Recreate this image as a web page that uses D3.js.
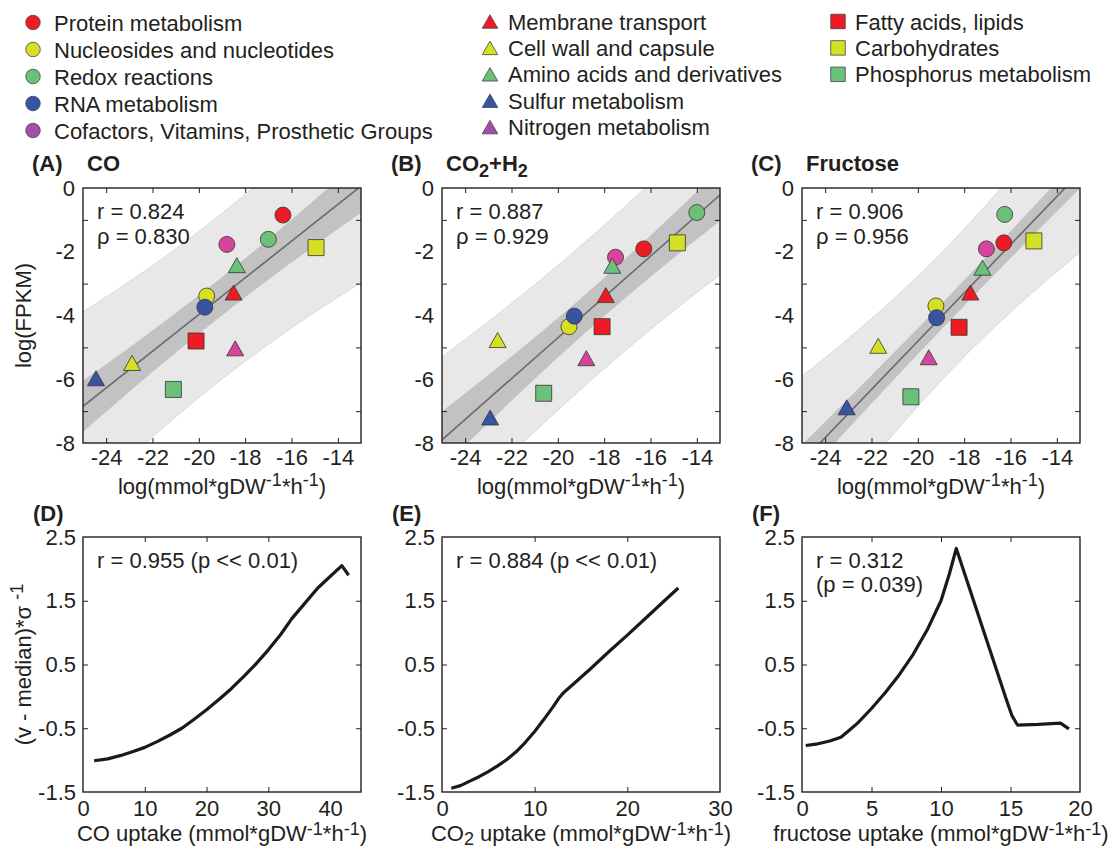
<!DOCTYPE html>
<html>
<head>
<meta charset="utf-8">
<script src="https://d3js.org/d3.v7.min.js"></script>
<style>
  body { margin: 0; background: #fff; }
  svg text { font-family: "Liberation Sans", Arial, sans-serif; fill: #231f20; }
</style>
</head>
<body>
<svg id="chart" width="1112" height="847"></svg>
<script>
// categories (legend order) with marker shape and colour
var categories = ["Protein metabolism", "Nucleosides and nucleotides", "Redox reactions", "RNA metabolism",
  "Cofactors, Vitamins, Prosthetic Groups", "Membrane transport", "Cell wall and capsule",
  "Amino acids and derivatives", "Sulfur metabolism", "Nitrogen metabolism",
  "Fatty acids, lipids", "Carbohydrates", "Phosphorus metabolism"];
var shapes = ["circle", "circle", "circle", "circle", "circle",
  "triangle", "triangle", "triangle", "triangle", "triangle",
  "square", "square", "square"];
var colors = ["#ed1c24", "#d5df26", "#6cc077", "#3953a4", "#d6459b",
  "#ed1c24", "#d5df26", "#6cc077", "#3953a4", "#d6459b",
  "#ed1c24", "#d5df26", "#6cc077"];
var legendColors = ["#ed1c24", "#d5df26", "#6cc077", "#3953a4", "#a54ea6",
  "#ed1c24", "#d5df26", "#6cc077", "#3953a4", "#a54ea6",
  "#ed1c24", "#d5df26", "#6cc077"];

// scatter values, one per category: log flux (x) and log(FPKM) (y)
var xCO = [-16.37, -19.66, -17.0, -19.74, -18.79, -18.5, -22.88, -18.36, -24.44, -18.43, -20.12, -14.94, -21.1];
var yCO = [-0.85, -3.39, -1.61, -3.74, -1.77, -3.28, -5.49, -2.42, -5.97, -5.03, -4.8, -1.87, -6.32];
var xCO2 = [-16.29, -19.52, -14.0, -19.29, -17.51, -17.93, -22.6, -17.65, -22.92, -18.77, -18.09, -14.84, -20.61];
var yCO2 = [-1.91, -4.35, -0.77, -4.02, -2.17, -3.36, -4.77, -2.44, -7.2, -5.34, -4.35, -1.72, -6.44];
var xFru = [-16.29, -19.22, -16.25, -19.19, -17.04, -17.73, -21.71, -17.21, -23.07, -19.53, -18.22, -14.99, -20.3];
var yFru = [-1.72, -3.7, -0.83, -4.07, -1.91, -3.28, -4.95, -2.5, -6.88, -5.31, -4.37, -1.66, -6.55];

// fitted line ends and band half widths [at mean x, at 6 units away]
var fitCO = [[-25, -6.85], [-13, 0.06]];
var fitCO2 = [[-25, -7.9], [-13, -0.22]];
var fitFru = [[-25, -8.59], [-13, 0.49]];
var confCO = [0.6, 0.82], predCO = [2.6, 3.0];
var confCO2 = [0.6, 0.85], predCO2 = [2.25, 2.55];
var confFru = [0.4, 0.52], predFru = [2.0, 2.6];

var statsCO = ["r = 0.824", "\u03c1 = 0.830"];
var statsCO2 = ["r = 0.887", "\u03c1 = 0.929"];
var statsFru = ["r = 0.906", "\u03c1 = 0.956"];

// z-scored flux vs uptake curves
var upCO = [1.8, 4, 6, 8, 10, 12, 14, 16, 18, 20, 22, 24, 26, 28, 30, 32, 33.8, 36, 38, 40, 41.9, 43.0];
var zCO = [-1.01, -0.98, -0.93, -0.87, -0.8, -0.71, -0.61, -0.5, -0.36, -0.21, -0.05, 0.12, 0.31, 0.51, 0.73, 0.97, 1.22, 1.47, 1.7, 1.88, 2.05, 1.9];
var upCO2 = [1.0, 2, 3, 4, 5, 6, 7, 8, 9, 10, 11, 12, 12.6, 13.2, 14, 16, 18, 20, 22, 24, 25.5];
var zCO2 = [-1.44, -1.4, -1.33, -1.26, -1.18, -1.09, -0.99, -0.87, -0.72, -0.55, -0.36, -0.16, -0.03, 0.07, 0.17, 0.43, 0.7, 0.96, 1.23, 1.5, 1.7];
var upFru = [0.27, 1, 2, 2.8, 3.4, 4, 5, 6, 7, 8, 9, 10, 10.6, 11.1, 13, 14.7, 15.1, 15.5, 17, 18.6, 19.2];
var zFru = [-0.77, -0.75, -0.7, -0.64, -0.53, -0.42, -0.19, 0.06, 0.34, 0.66, 1.04, 1.5, 1.92, 2.32, 1.07, -0.05, -0.3, -0.45, -0.44, -0.42, -0.51];

var svg = d3.select("#chart");
var lefts = [83, 442, 802], W = 278, H = 255, topS = 188, topB = 537;
var FS = 22;

function markerPath(shape, s) {
  if (shape === "circle") return d3.symbol(d3.symbolCircle, Math.PI * s * s / 4)();
  if (shape === "square") return d3.symbol(d3.symbolSquare, s * s)();
  var w = s + 1, h = s - 1;
  return "M0," + (-h / 2) + "L" + (w / 2) + "," + (h / 2) + "L" + (-w / 2) + "," + (h / 2) + "Z";
}

// label with super/subscripts: parts = [[text, shift]]
function richText(sel, parts, size) {
  var prev = 0;
  parts.forEach(function (p) {
    var sh = p[1] || 0;
    sel.append("tspan").attr("dy", sh - prev).attr("font-size", sh ? size * 0.82 : size).text(p[0]);
    prev = sh;
  });
}

// legend
var legCols = [{x: 33, tx: 54, y0: 22.5, dy: 27, idx: [0, 1, 2, 3, 4]},
  {x: 490, tx: 508, y0: 21.5, dy: 26.4, idx: [5, 6, 7, 8, 9]},
  {x: 838, tx: 855, y0: 21.5, dy: 26.4, idx: [10, 11, 12]}];
legCols.forEach(function (c) {
  c.idx.forEach(function (k, i) {
    var yy = c.y0 + i * c.dy;
    svg.append("path").attr("d", markerPath(shapes[k], 14.5))
      .attr("transform", "translate(" + c.x + "," + yy + ")")
      .attr("fill", legendColors[k]).attr("stroke", "#444").attr("stroke-width", 0.8);
    svg.append("text").attr("x", c.tx).attr("y", yy + 8).attr("font-size", FS).text(categories[k]);
  });
});

function frame(g, left, top) {
  g.append("rect").attr("x", left).attr("y", top).attr("width", W).attr("height", H)
    .attr("fill", "none").attr("stroke", "#231f20").attr("stroke-width", 1.4);
}

function styleAxis(a) {
  a.select(".domain").remove();
  a.selectAll("line").attr("stroke", "#231f20").attr("stroke-width", 1);
  a.selectAll("text").attr("font-size", FS).attr("font-family", "Liberation Sans, Arial, sans-serif").attr("fill", "#231f20");
}

function scatterPanel(i, xs, ys, fit, conf, pred, stats, tag, title) {
  var left = lefts[i];
  var g = svg.append("g");
  var x = d3.scaleLinear().domain([-25, -13]).range([left, left + W]);
  var y = d3.scaleLinear().domain([-8, 0]).range([topS + H, topS]);
  var cid = "clip" + i;
  g.append("clipPath").attr("id", cid).append("rect")
    .attr("x", left).attr("y", topS).attr("width", W).attr("height", H);

  var slope = (fit[1][1] - fit[0][1]) / (fit[1][0] - fit[0][0]);
  var fy = function (v) { return fit[0][1] + slope * (v - fit[0][0]); };
  var xm = d3.mean(xs);
  var hw = function (h, v) {
    return Math.sqrt(h[0] * h[0] + (h[1] * h[1] - h[0] * h[0]) / 36 * (v - xm) * (v - xm));
  };
  var grid = d3.range(-25, -12.95, 0.1);
  var band = function (h) {
    return d3.area().x(function (v) { return x(v); })
      .y0(function (v) { return y(fy(v) - hw(h, v)); })
      .y1(function (v) { return y(fy(v) + hw(h, v)); });
  };
  var cg = g.append("g").attr("clip-path", "url(#" + cid + ")");
  cg.append("path").datum(grid).attr("d", band(pred)).attr("fill", "#e8e8e8")
    .attr("stroke", "#d9d9d9").attr("stroke-width", 1);
  cg.append("path").datum(grid).attr("d", band(conf)).attr("fill", "#c2c2c2");
  cg.append("line").attr("x1", x(fit[0][0])).attr("y1", y(fit[0][1]))
    .attr("x2", x(fit[1][0])).attr("y2", y(fit[1][1]))
    .attr("stroke", "#6a6a6a").attr("stroke-width", 1.6);

  // ticks (inward, all sides) and labels
  var tx = [-24, -22, -20, -18, -16, -14], ty = [-7, -5, -3, -1];
  styleAxis(g.append("g").attr("transform", "translate(0," + (topS + H) + ")")
    .call(d3.axisBottom(x).tickValues(tx).tickSize(-5).tickFormat("")));
  styleAxis(g.append("g").attr("transform", "translate(0," + topS + ")")
    .call(d3.axisTop(x).tickValues(tx).tickSize(-5).tickFormat("")));
  styleAxis(g.append("g").attr("transform", "translate(" + left + ",0)")
    .call(d3.axisLeft(y).tickValues(ty).tickSize(-5).tickFormat("")));
  styleAxis(g.append("g").attr("transform", "translate(" + (left + W) + ",0)")
    .call(d3.axisRight(y).tickValues(ty).tickSize(-5).tickFormat("")));
  styleAxis(g.append("g").attr("transform", "translate(0," + (topS + H) + ")")
    .call(d3.axisBottom(x).tickValues(tx).tickSize(0).tickPadding(6).tickFormat(String)));
  styleAxis(g.append("g").attr("transform", "translate(" + left + ",0)")
    .call(d3.axisLeft(y).tickValues([0, -2, -4, -6, -8]).tickSize(0).tickPadding(8).tickFormat(String)));

  // points
  g.selectAll("path.pt").data(xs).enter().append("path").attr("class", "pt")
    .attr("d", function (d, k) { return markerPath(shapes[k], 16); })
    .attr("transform", function (d, k) { return "translate(" + x(d) + "," + y(ys[k]) + ")"; })
    .attr("fill", function (d, k) { return colors[k]; })
    .attr("stroke", "#333").attr("stroke-width", 0.8);

  frame(g, left, topS);

  stats.forEach(function (s, k) {
    g.append("text").attr("x", left + 14).attr("y", topS + 31 + k * 25).attr("font-size", FS).text(s);
  });
  g.append("text").attr("x", left - 51).attr("y", 171).attr("font-size", FS).attr("font-weight", "bold").text(tag);
  var t = g.append("text").attr("x", left + 4).attr("y", 171).attr("font-size", FS).attr("font-weight", "bold");
  richText(t, title, FS);
  var xl = g.append("text").attr("x", left + W / 2).attr("y", 494).attr("text-anchor", "middle").attr("font-size", FS);
  richText(xl, [["log(mmol*gDW"], ["-1", -8], ["*h"], ["-1", -8], [")"]], FS);
}

function linePanel(i, xs, zs, xmax, xticks, stats, tag, xlabel) {
  var left = lefts[i];
  var g = svg.append("g");
  var x = d3.scaleLinear().domain([0, xmax]).range([left, left + W]);
  var y = d3.scaleLinear().domain([-1.5, 2.5]).range([topB + H, topB]);
  var inner = xticks.slice(1, -1), yin = [-0.5, 0.5, 1.5];
  styleAxis(g.append("g").attr("transform", "translate(0," + (topB + H) + ")")
    .call(d3.axisBottom(x).tickValues(inner).tickSize(-5).tickFormat("")));
  styleAxis(g.append("g").attr("transform", "translate(0," + topB + ")")
    .call(d3.axisTop(x).tickValues(inner).tickSize(-5).tickFormat("")));
  styleAxis(g.append("g").attr("transform", "translate(" + left + ",0)")
    .call(d3.axisLeft(y).tickValues(yin).tickSize(-5).tickFormat("")));
  styleAxis(g.append("g").attr("transform", "translate(" + (left + W) + ",0)")
    .call(d3.axisRight(y).tickValues(yin).tickSize(-5).tickFormat("")));
  styleAxis(g.append("g").attr("transform", "translate(0," + (topB + H) + ")")
    .call(d3.axisBottom(x).tickValues(xticks).tickSize(0).tickPadding(8).tickFormat(String)));
  styleAxis(g.append("g").attr("transform", "translate(" + left + ",0)")
    .call(d3.axisLeft(y).tickValues([-1.5, -0.5, 0.5, 1.5, 2.5]).tickSize(0).tickPadding(7)
      .tickFormat(function (d) { return d.toFixed(1); })));

  var line = d3.line().x(function (d) { return x(d); }).y(function (d, k) { return y(zs[k]); });
  g.append("path").datum(xs).attr("d", line).attr("fill", "none")
    .attr("stroke", "#1a1a1a").attr("stroke-width", 3.2).attr("stroke-linejoin", "round");

  frame(g, left, topB);
  stats.forEach(function (s, k) {
    g.append("text").attr("x", left + 14).attr("y", topB + 31 + k * 24).attr("font-size", FS).text(s);
  });
  g.append("text").attr("x", left - 50).attr("y", 521).attr("font-size", FS).attr("font-weight", "bold").text(tag);
  var xl = g.append("text").attr("x", left + W / 2).attr("y", 841).attr("text-anchor", "middle").attr("font-size", FS);
  richText(xl, xlabel, FS);
}

scatterPanel(0, xCO, yCO, fitCO, confCO, predCO, statsCO, "(A)", [["CO"]]);
scatterPanel(1, xCO2, yCO2, fitCO2, confCO2, predCO2, statsCO2, "(B)", [["CO"], ["2", 6], ["+H"], ["2", 6]]);
scatterPanel(2, xFru, yFru, fitFru, confFru, predFru, statsFru, "(C)", [["Fructose"]]);

linePanel(0, upCO, zCO, 45, [0, 10, 20, 30, 40], ["r = 0.955 (p << 0.01)"], "(D)",
  [["CO uptake (mmol*gDW"], ["-1", -6.5], ["*h"], ["-1", -6.5], [")"]]);
linePanel(1, upCO2, zCO2, 30, [0, 10, 20, 30], ["r = 0.884 (p << 0.01)"], "(E)",
  [["CO"], ["2", 3.5], [" uptake (mmol*gDW"], ["-1", -6.5], ["*h"], ["-1", -6.5], [")"]]);
linePanel(2, upFru, zFru, 20, [0, 5, 10, 15, 20], ["r = 0.312", "(p = 0.039)"], "(F)",
  [["fructose uptake (mmol*gDW"], ["-1", -6.5], ["*h"], ["-1", -6.5], [")"]]);

// y-axis titles
svg.append("text").attr("transform", "translate(31," + (topS + H / 2) + ") rotate(-90)")
  .attr("text-anchor", "middle").attr("font-size", FS).text("log(FPKM)");
var yl = svg.append("text").attr("transform", "translate(31," + (topB + H / 2) + ") rotate(-90)")
  .attr("text-anchor", "middle").attr("font-size", FS);
richText(yl, [["(v - median)*\u03c3 "], ["-1", -8]], FS);
</script>
</body>
</html>
